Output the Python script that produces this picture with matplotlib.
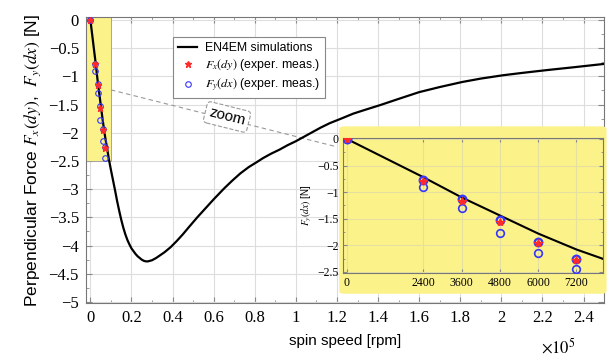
import matplotlib
matplotlib.use('Agg')
import matplotlib.pyplot as plt
from matplotlib.patches import Rectangle, FancyBboxPatch
from matplotlib.ticker import MultipleLocator, FuncFormatter
import numpy as np

# EN4EM simulation curve, speed in rpm, force in N
sim_speed = [0, 1200, 2400, 3600, 4800, 6000, 7200, 8100, 9000, 10000, 11000, 12000,
             13000, 14000, 15000, 16000, 17000, 18000, 19000, 20000, 21000, 22000, 23000,
             24000, 25000, 26000, 27000, 28000, 29000, 30000, 32000, 34000, 36000, 39000,
             42000, 45000, 48000, 52000, 56000, 60000, 65000, 69000, 73000, 77000, 81000,
             84000, 88000, 92000, 96000, 100000, 104000, 108000, 112000, 116500, 122000,
             128000, 134000, 141000, 150000, 160000, 170000, 181000, 190000, 201000,
             210000, 222000, 235000, 250000]
sim_force = [0, -0.36, -0.72, -1.10, -1.44, -1.78, -2.08, -2.27, -2.47, -2.66, -2.84, -3.02,
             -3.21, -3.38, -3.54, -3.68, -3.80, -3.90, -3.98, -4.05, -4.10, -4.15, -4.19,
             -4.22, -4.25, -4.27, -4.28, -4.28, -4.27, -4.26, -4.22, -4.17, -4.12, -4.03,
             -3.92, -3.80, -3.67, -3.50, -3.34, -3.18, -2.99, -2.85, -2.72, -2.61, -2.52,
             -2.45, -2.37, -2.30, -2.22, -2.15, -2.07, -1.99, -1.91, -1.83, -1.75,
             -1.66, -1.59, -1.51, -1.40, -1.28, -1.19, -1.10, -1.04, -0.98,
             -0.94, -0.89, -0.84, -0.78]

# measurements
meas_speed = [0, 2400, 3600, 4800, 6000, 7200]
fx_dy = [0, -0.79, -1.16, -1.56, -1.95, -2.27]
fy_dx = [0, -0.91, -1.29, -1.77, -2.14, -2.44]
fy_dx_b = [0, -0.78, -1.13, -1.53, -1.93, -2.26]

inset_xticks = [0, 2400, 3600, 4800, 6000, 7200]

plt.rcParams['mathtext.fontset'] = 'stix'
SANS = 'Liberation Sans'
SERIF = 'Liberation Serif'
YELLOW = '#fcf28a'
RED = '#ff2a2a'
BLUE = '#3535ff'

fmt = FuncFormatter(lambda v, _: ('%g' % v).replace('-', '\u2212'))

fig = plt.figure(figsize=(6.09, 3.6), dpi=100)
ax = fig.add_axes([0.141, 0.158, 0.851, 0.795])

x_main = np.array(sim_speed) / 1e5
m_main = np.array(meas_speed) / 1e5

ax.add_patch(Rectangle((-0.022, -2.5), 0.122, 2.6, facecolor=YELLOW, edgecolor='#999999',
                       linewidth=0.6, zorder=1))
ax.plot(x_main, sim_force, color='black', lw=1.6, zorder=3, label='EN4EM simulations')
ax.plot(m_main, fy_dx_b, 'o', mfc='none', mec=BLUE, ms=4, mew=0.8, zorder=4)
ax.plot(m_main, fx_dy, '*', color=RED, ms=5, zorder=5, label='$F_x(dy)$ (exper. meas.)')
ax.plot(m_main, fy_dx, 'o', mfc='none', mec=BLUE, ms=4, mew=0.8, zorder=4,
        label='$F_y(dx)$ (exper. meas.)')

ax.set_xlim(-0.022, 2.5)
ax.set_ylim(-5.02, 0.053)
ax.set_xticks(np.arange(0, 2.41, 0.2))
ax.set_yticks(np.arange(-5, 0.01, 0.5))
ax.xaxis.set_minor_locator(MultipleLocator(0.1))
ax.yaxis.set_minor_locator(MultipleLocator(0.25))
ax.xaxis.set_major_formatter(fmt)
ax.yaxis.set_major_formatter(fmt)
ax.grid(True, color='#dddddd', lw=0.8, zorder=0)
ax.set_axisbelow(True)
ax.tick_params(which='both', direction='in', top=True, right=True, color='#888888')
ax.tick_params(which='major', length=4, labelsize=12, pad=5)
ax.tick_params(which='minor', length=2)
for lab in ax.get_xticklabels() + ax.get_yticklabels():
    lab.set_family(SERIF)
for s in ax.spines.values():
    s.set_color('#777777')
    s.set_linewidth(0.8)

ax.set_xlabel('spin speed [rpm]', family=SANS, fontsize=11, labelpad=6)
ax.set_ylabel('Perpendicular Force $F_x(dy)$,  $F_y(dx)$ [N]', family=SANS, fontsize=12.5,
              labelpad=4)
fig.text(0.917, 0.035, r'$\times 10^5$', fontsize=12, ha='center', va='center')

leg = ax.legend(loc='upper left', bbox_to_anchor=(0.274, 0.913), bbox_transform=fig.transFigure,
                prop={'family': SANS, 'size': 8.8}, fancybox=False, framealpha=1,
                edgecolor='#888888', handlelength=1.6, borderpad=0.4, labelspacing=0.25,
                handletextpad=0.6)
leg.get_frame().set_linewidth(0.8)

# dashed guide from the highlighted region towards the inset
ax.plot([0.1, 1.2], [-1.24, -2.25], ls=(0, (4, 3)), color='#999999', lw=0.8, zorder=2)
ax.text(0.665, -1.72, 'zoom', family=SANS, fontsize=11, rotation=-14, ha='center',
        va='center', zorder=6,
        bbox=dict(boxstyle='round,pad=0.25', facecolor='white', edgecolor='#999999',
                  linestyle='--', linewidth=0.8))

# inset with the low-speed range
fig.add_artist(FancyBboxPatch((0.557, 0.184), 0.439, 0.465, boxstyle='round,pad=0.0,rounding_size=0.008',
                              transform=fig.transFigure, facecolor=YELLOW, edgecolor='none',
                              zorder=10))
axi = fig.add_axes([0.563, 0.242, 0.427, 0.375], zorder=11)
axi.set_facecolor(YELLOW)
axi.plot(sim_speed, sim_force, color='black', lw=1.5, zorder=3)
axi.plot(meas_speed, fy_dx, 'o', mfc='none', mec=BLUE, ms=5.5, mew=1.2, zorder=4)
axi.plot(meas_speed, fy_dx_b, 'o', mfc='none', mec=BLUE, ms=5.5, mew=1.6, zorder=4)
axi.plot(meas_speed, fx_dy, '*', color=RED, ms=6, zorder=5)
axi.set_xlim(-125, 8030)
axi.set_ylim(-2.52, 0.02)
axi.set_xticks(inset_xticks)
axi.set_yticks(np.arange(-2.5, 0.01, 0.5))
axi.yaxis.set_minor_locator(MultipleLocator(0.25))
axi.xaxis.set_major_formatter(fmt)
axi.yaxis.set_major_formatter(fmt)
axi.grid(True, color='#e6e0a0', lw=0.8, zorder=0)
axi.set_axisbelow(True)
axi.tick_params(which='both', direction='in', top=True, right=True, color='#888888')
axi.tick_params(which='major', length=3, labelsize=8.5, pad=3)
axi.tick_params(which='minor', length=1.5)
for lab in axi.get_xticklabels() + axi.get_yticklabels():
    lab.set_family(SERIF)
for s in axi.spines.values():
    s.set_color('#777777')
    s.set_linewidth(0.8)
axi.set_ylabel('$F_y(dx)$ [N]', family=SANS, fontsize=7, labelpad=2)

fig.savefig('out.png', dpi=100)
